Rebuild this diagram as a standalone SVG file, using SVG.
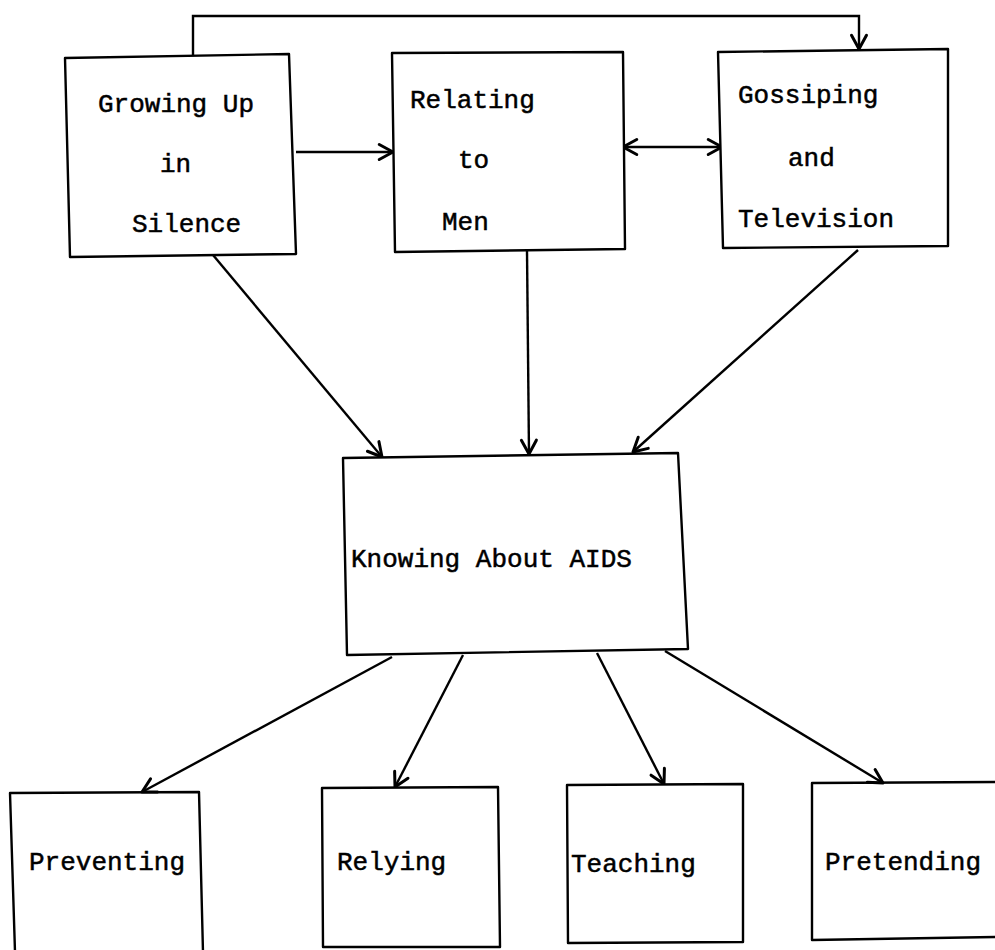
<svg xmlns="http://www.w3.org/2000/svg" width="995" height="950" viewBox="0 0 995 950">
<defs>
<marker id="arr" markerUnits="userSpaceOnUse" markerWidth="20" markerHeight="20" viewBox="-12 -8 14 16" refX="0" refY="0" orient="auto-start-reverse">
<path d="M-11,-6 L0,0 L-11,6" fill="none" stroke="#000" stroke-width="2.4" stroke-linecap="round" stroke-linejoin="round"/>
</marker>
</defs>
<style>
.box{fill:#fff;stroke:#000;stroke-width:2.4;stroke-linejoin:round}
.open{fill:none;stroke:#000;stroke-width:2.4;stroke-linejoin:round}
.lbl{font-family:"Liberation Mono","DejaVu Sans Mono",monospace;font-size:26px;fill:#000;stroke:#000;stroke-width:0.5}
.con{fill:none;stroke:#000;stroke-width:2.4;marker-end:url(#arr)}
</style>
<rect width="995" height="950" fill="#fff"/>
<g id="connectors">
<path class="con" d="M193,57 V16 H859 V49"/>
<path class="con" d="M296,152 H393"/>
<path class="con" d="M623,147 H722" style="marker-start:url(#arr)"/>
<path class="con" d="M213,255 L382,457"/>
<path class="con" d="M527,251 L529,454"/>
<path class="con" d="M858,250 L633,452"/>
<path class="con" d="M392,657 L142,792"/>
<path class="con" d="M463,655 L395,787"/>
<path class="con" d="M597,653 L664,784"/>
<path class="con" d="M665,651 L883,783"/>
</g>
<g id="growing">
<polygon class="box" points="65,58 289,54 296,254 70,257"/>
<text class="lbl" x="98" y="112">Growing Up</text>
<text class="lbl" x="160" y="172">in</text>
<text class="lbl" x="132" y="232">Silence</text>
</g>
<g id="relating">
<polygon class="box" points="392,53 623,52 625,249 395,252"/>
<text class="lbl" x="410" y="108">Relating</text>
<text class="lbl" x="458" y="168">to</text>
<text class="lbl" x="442" y="230">Men</text>
</g>
<g id="gossiping">
<polygon class="box" points="718,52 948,49 948,246 723,248"/>
<text class="lbl" x="738" y="103">Gossiping</text>
<text class="lbl" x="788" y="166">and</text>
<text class="lbl" x="738" y="227">Television</text>
</g>
<g id="knowing">
<polygon class="box" points="343,458 678,453 688,649 347,655"/>
<text class="lbl" x="351" y="567">Knowing About AIDS</text>
</g>
<g id="preventing">
<path class="open" d="M15,952 L10,793 L199,792 L203,952"/>
<text class="lbl" x="29" y="870">Preventing</text>
</g>
<g id="relying">
<polygon class="box" points="322,788 498,787 500,947 323,947"/>
<text class="lbl" x="337" y="870">Relying</text>
</g>
<g id="teaching">
<polygon class="box" points="567,785 743,784 743,942 568,943"/>
<text class="lbl" x="571" y="872">Teaching</text>
</g>
<g id="pretending">
<path class="open" d="M997,782 L812,783 L812,940 L997,937"/>
<text class="lbl" x="825" y="870">Pretending</text>
</g>
</svg>
